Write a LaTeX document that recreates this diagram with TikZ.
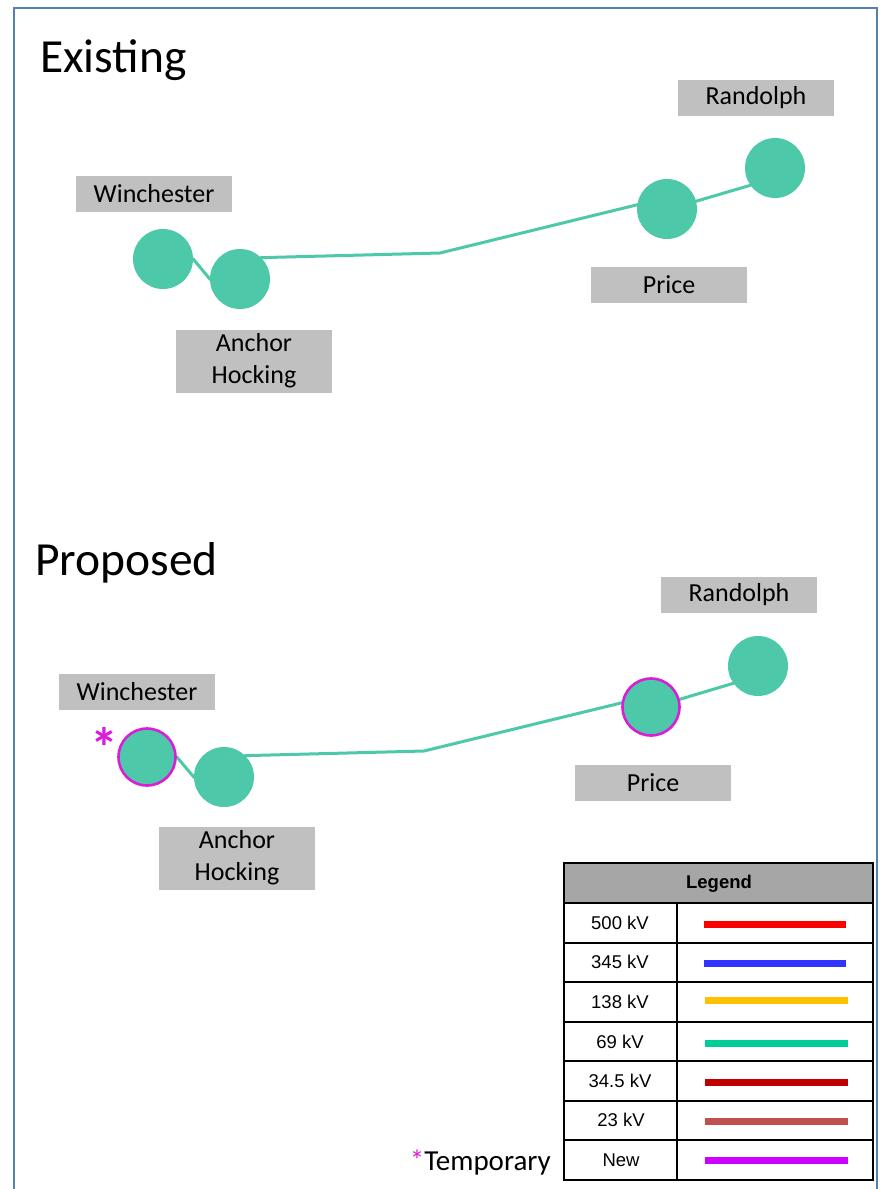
\documentclass[tikz,border=0pt]{standalone}
\usepackage{fontspec}
\setmainfont{Carlito}
\newfontfamily\arialf{Liberation Sans}
\definecolor{teal69}{HTML}{4DC8A8}
\definecolor{lblgray}{HTML}{C0C0C0}
\definecolor{hdrgray}{HTML}{A6A6A6}
\definecolor{framec}{HTML}{5581B0}
\definecolor{tempmag}{HTML}{D81ED8}
\definecolor{lgred}{HTML}{FF0000}
\definecolor{lgblue}{HTML}{3333FF}
\definecolor{lggold}{HTML}{FFC000}
\definecolor{lggreen}{HTML}{00CC99}
\definecolor{lgdred}{HTML}{C00000}
\definecolor{lgbrick}{HTML}{C0504D}
\definecolor{lgpurple}{HTML}{CC00FF}
\pgfdeclarelayer{bg}
\pgfsetlayers{bg,main}
\tikzset{
  lbl/.style={fill=lblgray, minimum width=156pt, minimum height=36pt, inner sep=0pt,
    font=\fontsize{26}{32}\selectfont, align=center},
  station/.style={circle, fill=teal69, minimum size=60pt, inner sep=0pt},
  tempst/.style={station, draw=tempmag, line width=2.6pt, minimum size=57pt},
  wire/.style={teal69, line width=3pt},
  title/.style={font=\fontsize{47.5}{56}\selectfont, anchor=base west, inner sep=0pt},
  lgtext/.style={font=\arialf\fontsize{18.5}{22}\selectfont, inner sep=0pt},
  lgline/.style={line width=7pt},
}
\begin{document}
\begin{tikzpicture}[x=1pt,y=-1pt]
\useasboundingbox (0,0) rectangle (884,1189);
% frame
\draw[framec, line width=2.5pt] (14,1192) -- (14,8) -- (877,8) -- (877,1192);

% ===== Existing =====
\node[title] (t1) at (40,72) {Existing};
\node[lbl] (lr1) at (756,98) {Randolph};
\node[lbl] (lw1) at (154,194) {Winchester};
\node[lbl] (lp1) at (669,285) {Price};
\node[lbl, minimum height=63pt] (la1) at (254,361) {Anchor\\Hocking};
\coordinate (b1) at (440,253);
\node[station] (w1) at (163,259) {};
\node[station] (a1) at (240,279) {};
\node[station] (p1) at (667,209) {};
\node[station] (r1) at (775,168) {};
\begin{pgfonlayer}{bg}
\draw[wire] (w1.center) -- (w1.east) -- (a1.west) -- (a1.center);
\draw[wire] (a1.center) -- (a1.north east) -- (b1) -- (p1.172) -- (p1.center);
\draw[wire] (p1.center) -- (p1.15) -- (r1.215) -- (r1.center);
\end{pgfonlayer}

% ===== Proposed =====
\node[title] (t2) at (35,575) {Proposed};
\node[lbl] (lr2) at (739,595) {Randolph};
\node[lbl] (lw2) at (137,692) {Winchester};
\node[lbl] (lp2) at (653,783) {Price};
\node[lbl, minimum height=63pt] (la2) at (237,858) {Anchor\\Hocking};
\coordinate (b2) at (424,751);
\node[tempst] (w2) at (147,757) {};
\node[station] (a2) at (224,777) {};
\node[tempst] (p2) at (651,707) {};
\node[station] (r2) at (758,666) {};
\begin{pgfonlayer}{bg}
\draw[wire] (w2.center) -- (w2.east) -- (a2.west) -- (a2.center);
\draw[wire] (a2.center) -- (a2.north east) -- (b2) -- (p2.172) -- (p2.center);
\draw[wire] (p2.center) -- (p2.15) -- (r2.215) -- (r2.center);
\end{pgfonlayer}
\node[text=tempmag, font=\bfseries\fontsize{56}{56}\selectfont, inner sep=0pt, anchor=base] (star) at (104,767) {*};

% ===== Legend =====
\fill[hdrgray] (564,863) rectangle (873,903);
\draw[black, line width=2pt] (564,863) rectangle (873,1180);
\foreach \y in {903,942.5,982,1021.5,1061,1100.5,1140}
  \draw[black, line width=2pt] (564,\y) -- (873,\y);
\draw[black, line width=2pt] (677,903) -- (677,1180);
\node[lgtext, font=\arialf\bfseries\fontsize{18.5}{22}\selectfont] (lgh) at (719,884) {Legend};
\node[lgtext] (l1) at (620,922.7) {500 kV};
\node[lgtext] (l2) at (620,962.3) {345 kV};
\node[lgtext] (l3) at (620,1002) {138 kV};
\node[lgtext] (l4) at (620,1041.5) {69 kV};
\node[lgtext] (l5) at (620,1081) {34.5 kV};
\node[lgtext] (l6) at (621,1120.3) {23 kV};
\node[lgtext] (l7) at (621,1160) {New};
\draw[lgline, lgred] (704,924) -- (846,924);
\draw[lgline, lgblue] (704,963.5) -- (846,963.5);
\draw[lgline, lggold] (705,1000.5) -- (848,1000.5);
\draw[lgline, lggreen] (705,1043) -- (848,1043);
\draw[lgline, lgdred] (705,1082) -- (848,1082);
\draw[lgline, lgbrick] (705,1121.5) -- (848,1121.5);
\draw[lgline, lgpurple] (705,1160.5) -- (848,1160.5);
\node[anchor=base east, inner sep=0pt, font=\fontsize{29}{34}\selectfont] (temp) at (551,1170)
  {\textcolor{tempmag}{*}Temporary};
\end{tikzpicture}
\end{document}
